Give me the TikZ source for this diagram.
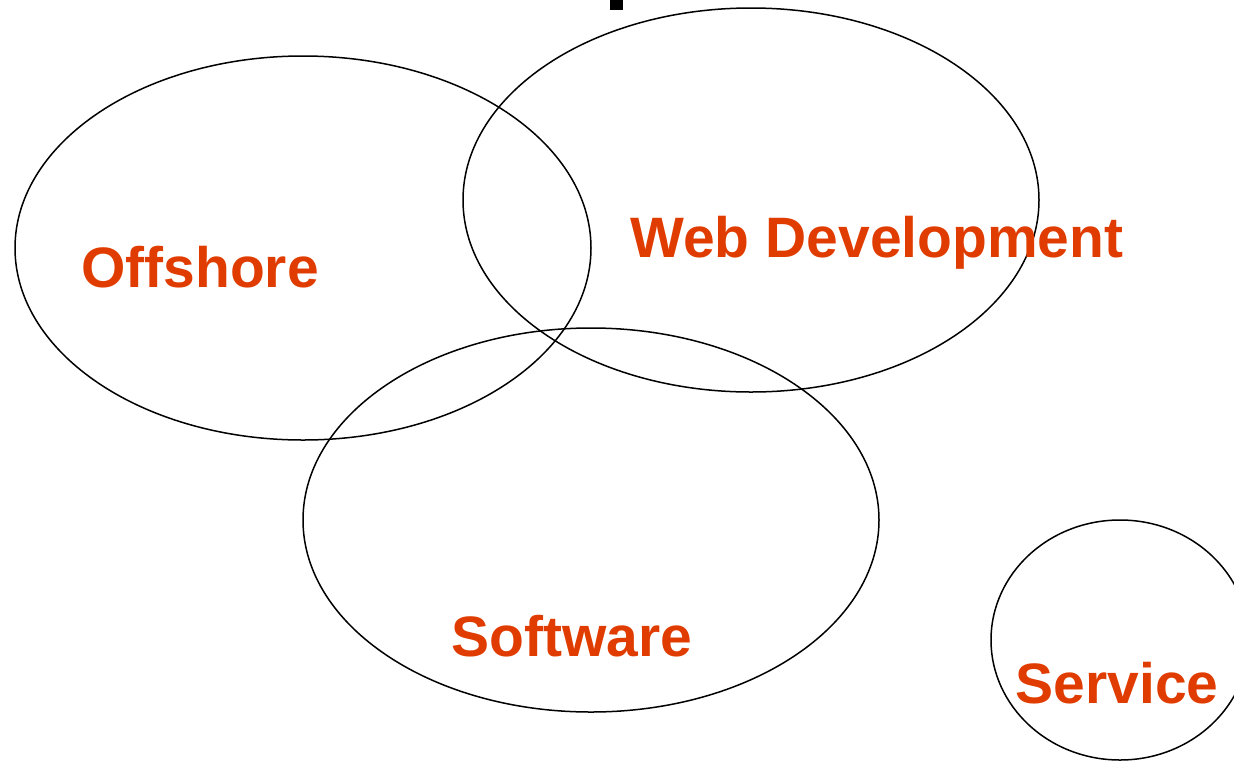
\documentclass[tikz,border=0pt]{standalone}
\usepackage{fontspec}
\setmainfont{Liberation Sans}
\definecolor{lab}{HTML}{E03C00}
\begin{document}
\begin{tikzpicture}[x=1pt,y=-1pt,
  ring/.style={draw=black,line width=1.5pt},
  lbl/.style={text=lab,font=\fontsize{57}{60}\selectfont\bfseries,anchor=base,inner sep=0pt}]
\useasboundingbox (0,0) rectangle (1234,761);
\clip (0,0) rectangle (1234,761);
\fill[black] (610,0) rectangle (623,10);
\draw[ring] (303,248) ellipse [x radius=288,y radius=192];
\draw[ring] (751,200) ellipse [x radius=288,y radius=192];
\draw[ring] (591,520) ellipse [x radius=288,y radius=192];
\draw[ring] (1120,640) ellipse [x radius=129,y radius=120];
\node[lbl] (off) at (200,287) {Offshore};
\node[lbl] (web) at (877,257) {Web Development};
\node[lbl] (soft) at (572,656) {Software};
\node[lbl] (serv) at (1117,703) {Service};
\end{tikzpicture}
\end{document}
